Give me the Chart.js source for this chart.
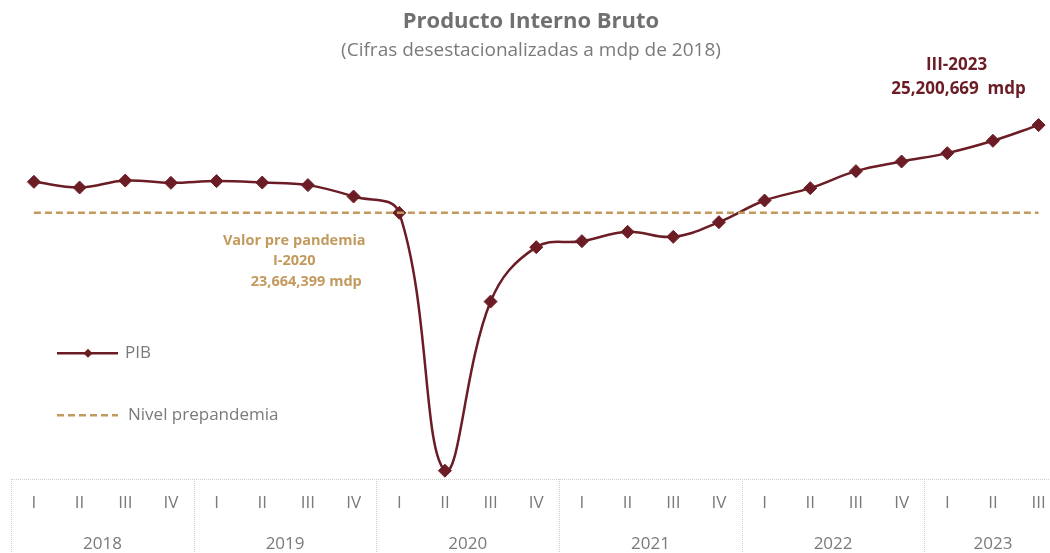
<!DOCTYPE html>
<html lang="es">
<head>
<meta charset="utf-8">
<title>Producto Interno Bruto</title>
<script src="https://cdn.jsdelivr.net/npm/chart.js@4.4.1/dist/chart.umd.min.js"></script>
<style>
  html, body { margin: 0; padding: 0; background: #fff; }
  #wrap { width: 1050px; height: 553px; position: relative; }
</style>
</head>
<body>
<div id="wrap"><canvas id="pibChart"></canvas></div>
<script>
// Data (millones de pesos de 2018, cifras desestacionalizadas)
const quarters = ['I', 'II', 'III', 'IV', 'I', 'II', 'III', 'IV', 'I', 'II', 'III', 'IV',
  'I', 'II', 'III', 'IV', 'I', 'II', 'III', 'IV', 'I', 'II', 'III'];
const years = ['2018', '2019', '2020', '2021', '2022', '2023'];
const pib = [
  24207000, 24108000, 24230000, 24190000,
  24220000, 24195000, 24150000, 23950000,
  23664399, 19150000, 22111000, 23064000,
  23169000, 23332000, 23244000, 23501000,
  23880000, 24097000, 24395000, 24563000,
  24710000, 24926000, 25200669
];
const prePandemia = 23664399;

// Colors
const maroon = '#6b1c24';
const tan = '#c39a5e';
const gray = '#7a7a7a';

const fontFamily = '"Open Sans", Lato, sans-serif';
Chart.defaults.font.family = fontFamily;

// year label sits in the middle of the quarters present for that year
function yearCenters() {
  return years.map((y, i) => {
    const first = i * 4;
    const last = Math.min(first + 3, quarters.length - 1);
    return (first + last) / 2;
  });
}

const fmt = (v) => v.toLocaleString('en-US');

// Dotted frame under the chart: top line and year separators
const axisFrame = {
  id: 'axisFrame',
  afterDraw(chart) {
    const { ctx, chartArea, scales } = chart;
    const x = scales.x;
    const bottom = chart.height;
    ctx.save();
    ctx.strokeStyle = '#cfcfcf';
    ctx.lineWidth = 1;
    ctx.setLineDash([1, 1]);
    ctx.beginPath();
    ctx.moveTo(chartArea.left, chartArea.bottom + 0.5);
    ctx.lineTo(chartArea.right, chartArea.bottom + 0.5);
    for (let i = 0; i < years.length; i++) {
      const px = Math.round(x.getPixelForValue(i * 4 - 0.5)) + 0.5;
      ctx.moveTo(px, chartArea.bottom);
      ctx.lineTo(px, bottom);
    }
    ctx.stroke();
    ctx.restore();
  }
};

// Text labels next to the data
const annotations = {
  id: 'annotations',
  afterDraw(chart) {
    const { ctx, scales } = chart;
    const x = scales.x, y = scales.y;
    const preX = x.getPixelForValue(8);
    const preY = y.getPixelForValue(prePandemia);
    const last = pib.length - 1;
    const lastX = x.getPixelForValue(last);
    const lastY = y.getPixelForValue(pib[last]);

    ctx.save();
    ctx.textAlign = 'center';
    ctx.textBaseline = 'middle';

    ctx.fillStyle = tan;
    ctx.font = 'bold 14.5px ' + fontFamily;
    ctx.fillText('Valor pre pandemia', preX - 105, preY + 28);
    ctx.fillText(quarters[8] + '-' + years[2], preX - 105, preY + 48);
    ctx.fillText(fmt(prePandemia) + ' mdp', preX - 93, preY + 69);

    ctx.fillStyle = maroon;
    ctx.font = 'bold 17px ' + fontFamily;
    ctx.fillText(quarters[last] + '-' + years[years.length - 1], lastX - 82, lastY - 60);
    ctx.fillText(fmt(pib[last]) + '  mdp', lastX - 80, lastY - 36);
    ctx.restore();
  }
};

// Legend drawn inside the plot, on the left
const sideLegend = {
  id: 'sideLegend',
  afterDraw(chart) {
    const { ctx, chartArea } = chart;
    const x0 = chartArea.left + 45;
    const rows = [chartArea.top + 291, chartArea.top + 353];
    ctx.save();
    chart.data.datasets.forEach((ds, i) => {
      const yy = rows[i];
      ctx.strokeStyle = ds.borderColor;
      ctx.lineWidth = 2.5;
      ctx.setLineDash(ds.borderDash || []);
      ctx.beginPath();
      ctx.moveTo(x0, yy);
      ctx.lineTo(x0 + 61, yy);
      ctx.stroke();
      ctx.setLineDash([]);
      if (ds.pointRadius) {
        ctx.fillStyle = ds.borderColor;
        ctx.beginPath();
        ctx.moveTo(x0 + 31 - 4.5, yy);
        ctx.lineTo(x0 + 31, yy - 4.5);
        ctx.lineTo(x0 + 31 + 4.5, yy);
        ctx.lineTo(x0 + 31, yy + 4.5);
        ctx.closePath();
        ctx.fill();
      }
      ctx.fillStyle = gray;
      ctx.font = '17px ' + fontFamily;
      ctx.textAlign = 'left';
      ctx.textBaseline = 'middle';
      ctx.fillText(ds.label, x0 + (ds.pointRadius ? 68 : 71), yy);
    });
    ctx.restore();
  }
};

const ctx = document.getElementById('pibChart').getContext('2d');

new Chart(ctx, {
  type: 'line',
  data: {
    datasets: [{
      label: 'PIB',
      data: pib.map((v, i) => ({ x: i, y: v })),
      borderColor: maroon,
      backgroundColor: maroon,
      borderWidth: 2.5,
      pointStyle: 'rectRot',
      pointRadius: 6.5,
      pointBackgroundColor: maroon,
      pointBorderColor: maroon,
      pointBorderWidth: 1,
      tension: 0.4,
      order: 1
    }, {
      label: 'Nivel prepandemia',
      data: pib.map((v, i) => ({ x: i, y: prePandemia })),
      borderColor: tan,
      borderWidth: 2.5,
      borderDash: [7, 4],
      pointRadius: 0,
      order: 0
    }]
  },
  options: {
    responsive: true,
    maintainAspectRatio: false,
    animation: false,
    layout: { autoPadding: false, padding: { left: 12, right: 0, top: 0, bottom: 0 } },
    plugins: {
      legend: { display: false },
      tooltip: { enabled: false },
      title: {
        display: true,
        text: 'Producto Interno Bruto',
        color: '#707070',
        font: { size: 22, weight: 'bold' },
        padding: { top: 9, bottom: 4 }
      },
      subtitle: {
        display: true,
        text: '(Cifras desestacionalizadas a mdp de 2018)',
        color: gray,
        font: { size: 19 },
        padding: { top: 0, bottom: 0 }
      }
    },
    scales: {
      x: {
        type: 'linear',
        position: 'bottom',
        weight: 0,
        min: -0.48,
        max: 22.25,
        grid: { display: false, drawTicks: false },
        border: { display: false },
        afterBuildTicks: (scale) => { scale.ticks = quarters.map((q, i) => ({ value: i })); },
        afterFit: (scale) => { scale.height = 42; },
        ticks: {
          color: gray,
          font: { size: 17, lineHeight: '48px' },
          padding: 0,
          maxRotation: 0,
          autoSkip: false,
          callback: (value) => quarters[value]
        }
      },
      x2: {
        type: 'linear',
        position: 'bottom',
        weight: 1,
        min: -0.48,
        max: 22.25,
        grid: { display: false, drawTicks: false },
        border: { display: false },
        afterBuildTicks: (scale) => { scale.ticks = yearCenters().map(v => ({ value: v })); },
        afterFit: (scale) => { scale.height = 32; },
        ticks: {
          color: gray,
          font: { size: 17 },
          padding: 13,
          maxRotation: 0,
          autoSkip: false,
          callback: (value, index) => years[index]
        }
      },
      y: {
        display: false,
        min: 19005000,
        max: 26302000
      }
    }
  },
  plugins: [axisFrame, annotations, sideLegend]
});
</script>
</body>
</html>
